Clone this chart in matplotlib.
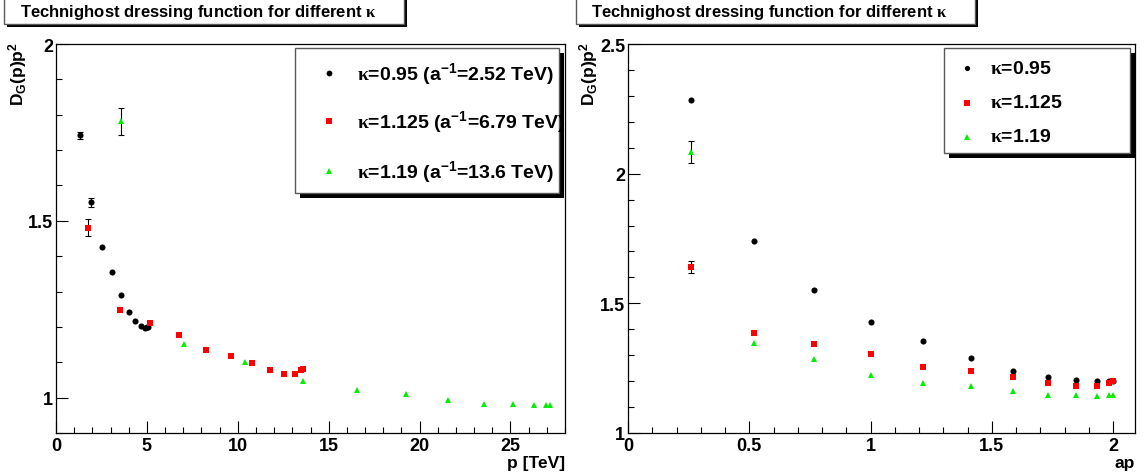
import matplotlib
matplotlib.use("Agg")
import matplotlib.pyplot as plt
from matplotlib.patches import Rectangle
from matplotlib.lines import Line2D
from matplotlib.ticker import MultipleLocator, FuncFormatter

# lattice momenta ap (same for all three kappa values)
ap = [0.261, 0.518, 0.765, 1.0, 1.218, 1.414, 1.587, 1.732, 1.848, 1.932, 1.983, 2.0]

# right panel: D_G(p)p^2 against ap
dg_ap_095 = [2.284, 1.740, 1.553, 1.428, 1.354, 1.290, 1.240, 1.217, 1.204, 1.199, 1.202, 1.201]
dg_ap_1125 = [1.641, 1.384, 1.343, 1.305, 1.256, 1.240, 1.215, 1.194, 1.181, 1.181, 1.194, 1.199]
dg_ap_119 = [2.085, 1.347, 1.287, 1.224, 1.194, 1.180, 1.161, 1.148, 1.147, 1.144, 1.145, 1.145]
# errors (0 = smaller than the marker)
err_ap_095 = [0, 0, 0, 0, 0, 0, 0, 0, 0, 0, 0, 0]
err_ap_1125 = [0.024, 0, 0, 0, 0, 0, 0, 0, 0, 0, 0, 0]
err_ap_119 = [0.042, 0, 0, 0, 0, 0, 0, 0, 0, 0, 0, 0]

# left panel: D_G(p)p^2 against p in TeV
p_095 = [0.66, 1.31, 1.94, 2.52, 3.07, 3.56, 4.00, 4.37, 4.66, 4.87, 5.00, 5.04]
dg_p_095 = [2.284, 1.742, 1.552, 1.427, 1.354, 1.290, 1.241, 1.217, 1.203, 1.198, 1.199, 1.200]
p_1125 = [1.77, 3.52, 5.19, 6.79, 8.27, 9.60, 10.78, 11.76, 12.55, 13.12, 13.46, 13.58]
dg_p_1125 = [1.481, 1.249, 1.212, 1.178, 1.134, 1.119, 1.097, 1.077, 1.066, 1.066, 1.077, 1.082]
p_119 = [3.55, 7.04, 10.40, 13.60, 16.56, 19.23, 21.58, 23.55, 25.13, 26.28, 26.97, 27.20]
dg_p_119 = [1.782, 1.152, 1.102, 1.046, 1.021, 1.009, 0.992, 0.981, 0.981, 0.978, 0.978, 0.978]
err_p_095 = [0, 0.010, 0.012, 0, 0, 0, 0, 0, 0, 0, 0, 0]
err_p_1125 = [0.024, 0, 0, 0, 0, 0, 0, 0, 0, 0, 0, 0]
err_p_119 = [0.038, 0, 0, 0, 0, 0, 0, 0, 0, 0, 0, 0]

K = r"$\mathsf{\kappa}$"
labels_p = [K + "=0.95 (a$^{-1}$=2.52 TeV)", K + "=1.125 (a$^{-1}$=6.79 TeV)", K + "=1.19 (a$^{-1}$=13.6 TeV)"]
labels_ap = [K + "=0.95", K + "=1.125", K + "=1.19"]
title = "Technighost dressing function for different " + K

plt.rcParams['font.family'] = ['Liberation Sans', 'DejaVu Sans']
plt.rcParams['font.weight'] = 'bold'
plt.rcParams['mathtext.fontset'] = 'custom'
plt.rcParams['mathtext.rm'] = 'Liberation Sans:bold'
plt.rcParams['mathtext.it'] = 'Liberation Sans:bold'
plt.rcParams['mathtext.bf'] = 'Liberation Sans:bold'
plt.rcParams['mathtext.sf'] = 'Liberation Serif'
plt.rcParams['mathtext.default'] = 'rm'

W, H = 1145, 477
fig = plt.figure(figsize=(W / 100, H / 100), dpi=100)


def fx(x):
    return x / W


def fy(y):
    return 1 - y / H


styles = [dict(marker='o', color='black', ms=4.4),
          dict(marker='s', color='red', ms=4.6),
          dict(marker='^', color='#00ee00', ms=4.6)]


def draw_panel(ax, xs, ys, errs, xlim, ylim, xmajor, xminor):
    for x, y, e, st in zip(xs, ys, errs, styles):
        # only the points whose error sticks out of the marker get a bar
        ex = [a for a, b in zip(x, e) if b > 0]
        ey = [a for a, b in zip(y, e) if b > 0]
        ee = [b for b in e if b > 0]
        if ee:
            ax.errorbar(ex, ey, yerr=ee, fmt='none', ecolor='black', elinewidth=0.8,
                        capsize=2.5, capthick=0.8, zorder=2)
        ax.plot(x, y, linestyle='none', marker=st['marker'], color=st['color'],
                markersize=st['ms'], markeredgewidth=0, zorder=3)
    ax.set_xlim(*xlim)
    ax.set_ylim(*ylim)
    ax.xaxis.set_major_locator(MultipleLocator(xmajor))
    ax.xaxis.set_minor_locator(MultipleLocator(xminor))
    ax.yaxis.set_major_locator(MultipleLocator(0.5))
    ax.yaxis.set_minor_locator(MultipleLocator(0.1))
    fmt = FuncFormatter(lambda v, pos: "%g" % round(v, 3))
    ax.xaxis.set_major_formatter(fmt)
    ax.yaxis.set_major_formatter(fmt)
    ax.tick_params(which='both', direction='in', top=False, right=False,
                   width=0.8, labelsize=13)
    ax.tick_params(which='major', length=8.5)
    ax.tick_params(which='minor', length=4.3)
    ax.tick_params(axis='x', pad=3)
    ax.tick_params(axis='y', pad=2)
    for lbl in ax.get_xticklabels() + ax.get_yticklabels():
        lbl.set_fontweight('bold')
    for sp in ax.spines.values():
        sp.set_linewidth(0.9)


def draw_box(x0, y0, x1, y1, shadow):
    # ROOT style box with a solid black shadow
    fig.add_artist(Rectangle((fx(x0 + shadow), fy(y1 + shadow)), (x1 - x0) / W, (y1 - y0) / H,
                             transform=fig.transFigure, facecolor='black', edgecolor='none', zorder=5))
    fig.add_artist(Rectangle((fx(x0), fy(y1)), (x1 - x0) / W, (y1 - y0) / H,
                             transform=fig.transFigure, facecolor='white', edgecolor='0.35',
                             linewidth=1, zorder=6))


def draw_legend(x0, y0, x1, y1, mx, tx, rows, labels, ms_scale):
    draw_box(x0, y0, x1, y1, 5)
    for row, lab, st in zip(rows, labels, styles):
        fig.add_artist(Line2D([fx(mx)], [fy(row)], transform=fig.transFigure, linestyle='none',
                              marker=st['marker'], color=st['color'], markersize=st['ms'] * ms_scale,
                              markeredgewidth=0, zorder=7))
        fig.text(fx(tx), fy(row), lab, fontsize=14, fontweight='bold', va='center', ha='left', zorder=7)


# left panel: against physical momentum
ax1 = fig.add_axes([fx(56), fy(434), (565 - 56) / W, (434 - 45) / H])
draw_panel(ax1, [p_095, p_1125, p_119], [dg_p_095, dg_p_1125, dg_p_119],
           [err_p_095, err_p_1125, err_p_119], (0, 28), (0.9, 2.0), 5, 1)

# right panel: against ap
ax2 = fig.add_axes([fx(628), fy(434), (1135 - 628) / W, (434 - 45) / H])
draw_panel(ax2, [ap, ap, ap], [dg_ap_095, dg_ap_1125, dg_ap_119],
           [err_ap_095, err_ap_1125, err_ap_119], (0, 2.09), (1.0, 2.5), 0.5, 0.1)

# axis titles, ROOT puts them at the far end of each axis
fig.text(fx(565), fy(456), "p [TeV]", fontsize=12.5, fontweight='bold', ha='right', va='top')
fig.text(fx(1135), fy(456), "ap", fontsize=12.5, fontweight='bold', ha='right', va='top')
fig.text(fx(18), fy(42), "D$_{G}$(p)p$^{2}$", fontsize=12.5, fontweight='bold',
         rotation=90, ha='center', va='top')
fig.text(fx(589), fy(42), "D$_{G}$(p)p$^{2}$", fontsize=12.5, fontweight='bold',
         rotation=90, ha='center', va='top')

# title boxes
draw_box(4, -2, 404, 25, 3)
fig.text(fx(20), fy(12), title, fontsize=12, fontweight='bold', va='center', ha='left', zorder=7)
draw_box(576, -2, 975, 25, 3)
fig.text(fx(591), fy(12), title, fontsize=12, fontweight='bold', va='center', ha='left', zorder=7)

# legends
draw_legend(295, 49, 559, 194, 329, 357, [74, 122, 172], labels_p, 0.95)
draw_legend(944, 49, 1130, 154, 967, 990, [69, 104, 138], labels_ap, 0.85)

fig.savefig("out.png", dpi=100)
